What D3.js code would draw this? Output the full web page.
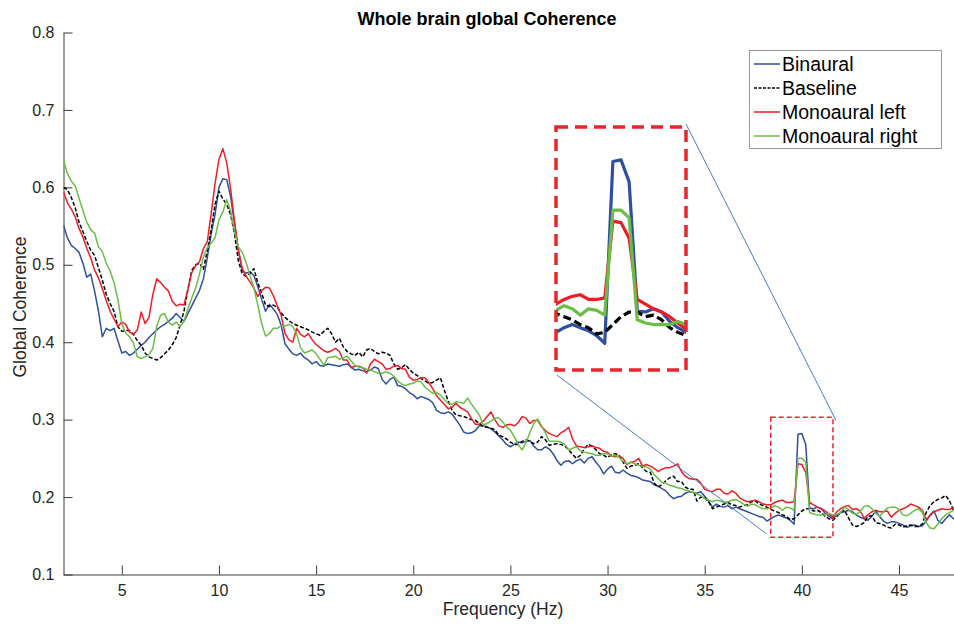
<!DOCTYPE html>
<html>
<head>
<meta charset="utf-8">
<script src="https://cdn.jsdelivr.net/npm/d3@7"></script>
<style>
  html, body { margin: 0; padding: 0; background: #fff; }
  svg { display: block; font-family: "Liberation Sans", Arial, Helvetica, sans-serif; }
</style>
</head>
<body>
<svg id="chart" width="954" height="626"></svg>
<script>
// ---------------- DATA ----------------
const freqStart = 2, freqStep = 0.2, nPoints = 231;   // 2.0 ... 48.0 Hz

const seriesNames = ["Binaural", "Baseline", "Monoaural left", "Monoaural right"];

const binaural = [
  0.551,0.535,0.525,0.521,0.516, 0.502,0.484,0.488,0.466,0.440,
  0.407,0.418,0.415,0.418,0.402, 0.386,0.388,0.383,0.386,0.391,
  0.396,0.400,0.406,0.411,0.416, 0.420,0.423,0.427,0.431,0.437,
  0.432,0.427,0.437,0.447,0.457, 0.467,0.482,0.509,0.540,0.565,
  0.600,0.611,0.610,0.588,0.554, 0.519,0.492,0.489,0.491,0.486,
  0.472,0.455,0.440,0.449,0.443, 0.436,0.422,0.398,0.391,0.385,
  0.383,0.386,0.380,0.377,0.372, 0.375,0.370,0.369,0.372,0.371,
  0.370,0.369,0.371,0.372,0.368, 0.364,0.365,0.363,0.362,0.364,
  0.368,0.366,0.352,0.346,0.352, 0.355,0.344,0.343,0.340,0.335,
  0.332,0.327,0.330,0.328,0.326, 0.322,0.312,0.309,0.308,0.310,
  0.307,0.300,0.293,0.284,0.282, 0.283,0.286,0.292,0.292,0.291,
  0.288,0.284,0.279,0.274,0.268, 0.265,0.268,0.271,0.270,0.272,
  0.273,0.266,0.261,0.261,0.265, 0.262,0.256,0.247,0.241,0.246,
  0.247,0.243,0.247,0.249,0.244, 0.250,0.252,0.245,0.239,0.230,
  0.236,0.240,0.232,0.231,0.235, 0.231,0.228,0.227,0.225,0.222,
  0.221,0.220,0.216,0.214,0.211, 0.208,0.202,0.198,0.200,0.201,
  0.205,0.207,0.206,0.205,0.207, 0.201,0.195,0.187,0.191,0.188,
  0.187,0.189,0.185,0.187,0.185, 0.183,0.181,0.179,0.177,0.175,
  0.174,0.169,0.172,0.175,0.177, 0.175,0.173,0.170,0.165,0.281,
  0.282,0.268,0.186,0.185,0.187, 0.185,0.179,0.175,0.172,0.177,
  0.180,0.181,0.183,0.181,0.177, 0.174,0.172,0.170,0.175,0.182,
  0.175,0.169,0.166,0.168,0.168, 0.166,0.164,0.161,0.163,0.164,
  0.162,0.163,0.169,0.177,0.182, 0.170,0.166,0.172,0.177,0.172,
  0.170
];

const baseline = [
  0.600,0.597,0.587,0.574,0.555, 0.543,0.530,0.519,0.512,0.496,
  0.480,0.462,0.450,0.440,0.420, 0.414,0.415,0.415,0.410,0.402,
  0.396,0.386,0.381,0.379,0.377, 0.380,0.385,0.390,0.397,0.406,
  0.422,0.440,0.468,0.493,0.500, 0.502,0.494,0.518,0.545,0.578,
  0.595,0.585,0.578,0.565,0.540, 0.505,0.488,0.485,0.489,0.495,
  0.477,0.463,0.448,0.446,0.448, 0.445,0.438,0.432,0.428,0.424,
  0.422,0.420,0.418,0.416,0.413, 0.411,0.409,0.414,0.418,0.411,
  0.400,0.405,0.394,0.388,0.385, 0.383,0.387,0.381,0.390,0.392,
  0.388,0.385,0.387,0.386,0.383, 0.372,0.365,0.367,0.371,0.365,
  0.360,0.357,0.353,0.350,0.347, 0.348,0.351,0.354,0.338,0.324,
  0.312,0.306,0.305,0.304,0.302, 0.300,0.299,0.295,0.291,0.290,
  0.289,0.287,0.280,0.278,0.275, 0.271,0.268,0.268,0.272,0.274,
  0.272,0.269,0.271,0.278,0.274, 0.267,0.268,0.269,0.268,0.266,
  0.261,0.255,0.250,0.254,0.262, 0.268,0.266,0.261,0.256,0.254,
  0.251,0.255,0.256,0.254,0.245, 0.237,0.240,0.241,0.243,0.238,
  0.233,0.232,0.218,0.213,0.216, 0.221,0.225,0.227,0.220,0.220,
  0.213,0.210,0.210,0.195,0.200, 0.199,0.194,0.185,0.187,0.189,
  0.191,0.193,0.190,0.189,0.187, 0.189,0.190,0.194,0.195,0.191,
  0.189,0.187,0.184,0.182,0.180, 0.177,0.175,0.171,0.172,0.177,
  0.182,0.185,0.185,0.182,0.183, 0.180,0.175,0.172,0.170,0.175,
  0.180,0.183,0.173,0.164,0.162, 0.164,0.167,0.175,0.176,0.167,
  0.166,0.164,0.161,0.160,0.165, 0.164,0.161,0.163,0.164,0.162,
  0.162,0.165,0.180,0.189,0.194, 0.197,0.199,0.202,0.195,0.183,
  0.178
];

const monoLeft = [
  0.594,0.580,0.572,0.562,0.547, 0.536,0.521,0.509,0.493,0.483,
  0.469,0.454,0.440,0.430,0.420, 0.426,0.423,0.413,0.410,0.416,
  0.439,0.424,0.432,0.462,0.482, 0.477,0.471,0.466,0.453,0.447,
  0.449,0.448,0.468,0.490,0.499, 0.504,0.521,0.530,0.566,0.605,
  0.636,0.650,0.632,0.598,0.556, 0.519,0.495,0.485,0.478,0.470,
  0.459,0.467,0.471,0.470,0.460, 0.447,0.435,0.411,0.403,0.400,
  0.418,0.410,0.407,0.411,0.403, 0.397,0.393,0.389,0.387,0.389,
  0.392,0.388,0.377,0.377,0.367, 0.369,0.369,0.367,0.360,0.372,
  0.378,0.375,0.372,0.365,0.366, 0.369,0.370,0.366,0.365,0.355,
  0.351,0.352,0.354,0.354,0.348, 0.340,0.331,0.325,0.320,0.314,
  0.316,0.321,0.316,0.313,0.310, 0.301,0.294,0.294,0.298,0.304,
  0.310,0.300,0.292,0.290,0.293, 0.294,0.292,0.296,0.304,0.302,
  0.295,0.299,0.299,0.291,0.286, 0.282,0.280,0.278,0.283,0.286,
  0.290,0.275,0.266,0.265,0.264, 0.265,0.266,0.264,0.263,0.259,
  0.258,0.253,0.252,0.253,0.250, 0.242,0.245,0.246,0.250,0.240,
  0.242,0.240,0.237,0.233,0.236, 0.238,0.238,0.240,0.243,0.233,
  0.227,0.224,0.223,0.223,0.218, 0.210,0.208,0.207,0.210,0.210,
  0.205,0.204,0.208,0.205,0.199, 0.196,0.194,0.195,0.196,0.194,
  0.191,0.190,0.190,0.193,0.195, 0.196,0.193,0.193,0.194,0.243,
  0.242,0.232,0.193,0.190,0.187, 0.185,0.182,0.178,0.174,0.181,
  0.185,0.188,0.189,0.184,0.185, 0.182,0.173,0.177,0.181,0.183,
  0.181,0.181,0.182,0.174,0.179, 0.183,0.185,0.187,0.191,0.189,
  0.187,0.183,0.171,0.176,0.181, 0.183,0.185,0.184,0.184,0.186,
  0.183
];

const monoRight = [
  0.635,0.618,0.608,0.602,0.586, 0.570,0.555,0.545,0.541,0.523,
  0.517,0.502,0.492,0.477,0.455, 0.424,0.412,0.407,0.399,0.381,
  0.379,0.381,0.384,0.392,0.421, 0.435,0.437,0.426,0.422,0.426,
  0.420,0.427,0.443,0.457,0.470, 0.488,0.510,0.522,0.528,0.535,
  0.558,0.568,0.584,0.570,0.543, 0.523,0.516,0.503,0.486,0.470,
  0.448,0.424,0.408,0.411,0.418, 0.418,0.421,0.421,0.423,0.420,
  0.411,0.393,0.386,0.388,0.390, 0.385,0.378,0.370,0.380,0.381,
  0.382,0.378,0.380,0.382,0.376, 0.370,0.368,0.367,0.365,0.364,
  0.362,0.360,0.360,0.362,0.360, 0.356,0.350,0.346,0.344,0.346,
  0.347,0.350,0.349,0.342,0.338, 0.334,0.335,0.332,0.326,0.321,
  0.320,0.323,0.322,0.321,0.328, 0.320,0.313,0.306,0.293,0.295,
  0.298,0.302,0.302,0.297,0.291, 0.286,0.278,0.268,0.261,0.270,
  0.283,0.295,0.301,0.292,0.283, 0.272,0.272,0.272,0.271,0.268,
  0.261,0.263,0.265,0.260,0.258, 0.257,0.256,0.254,0.254,0.256,
  0.256,0.253,0.254,0.251,0.246, 0.243,0.245,0.243,0.241,0.239,
  0.239,0.236,0.229,0.224,0.219, 0.218,0.215,0.214,0.212,0.211,
  0.209,0.208,0.206,0.204,0.202, 0.198,0.196,0.194,0.196,0.195,
  0.193,0.194,0.196,0.197,0.194, 0.191,0.188,0.191,0.190,0.187,
  0.185,0.185,0.186,0.189,0.187, 0.183,0.187,0.186,0.183,0.250,
  0.250,0.245,0.180,0.178,0.177, 0.177,0.177,0.179,0.177,0.177,
  0.180,0.187,0.184,0.179,0.178, 0.181,0.188,0.189,0.185,0.179,
  0.175,0.181,0.186,0.187,0.187, 0.184,0.177,0.176,0.179,0.183,
  0.185,0.180,0.167,0.160,0.159, 0.165,0.172,0.177,0.180,0.183,
  0.182
];

const xTicks = [5, 10, 15, 20, 25, 30, 35, 40, 45];
const yTicks = [0.1, 0.2, 0.3, 0.4, 0.5, 0.6, 0.7, 0.8];
const xDomain = [2, 48];
const yDomain = [0.1, 0.8];
// zoomed window shown in the inset
const zoomFreq = [38.4, 41.6];
const zoomValue = [0.148, 0.303];

const titleText = "Whole brain global Coherence";
const xLabel = "Frequency (Hz)";
const yLabel = "Global Coherence";

// ---------------- LAYOUT / STYLE ----------------
const W = 954, H = 626;
const plot = { left: 63.5, right: 957.3, top: 32.5, bottom: 574.5 };
const inset = { left: 556, right: 686, top: 127, bottom: 370 };
const colors = ["#2f4f9f", "#000000", "#ee1d25", "#6bbd46"];
const dashes = [null, "4,2", null, null];
const dashesInset = [null, "8,4", null, null];

const allSeries = [binaural, baseline, monoLeft, monoRight];
allSeries.forEach((s, i) => { if (s.length !== nPoints) console.error(seriesNames[i] + " length " + s.length); });
const freq = d3.range(nPoints).map(i => +(freqStart + i * freqStep).toFixed(1));

const svg = d3.select("#chart");
svg.append("rect").attr("width", W).attr("height", H).attr("fill", "#fff");

const x = d3.scaleLinear().domain(xDomain).range([plot.left, plot.right]);
const y = d3.scaleLinear().domain(yDomain).range([plot.bottom, plot.top]);

const defs = svg.append("defs");
defs.append("clipPath").attr("id", "clipMain").append("rect")
  .attr("x", plot.left).attr("y", plot.top)
  .attr("width", plot.right - plot.left).attr("height", plot.bottom - plot.top);
defs.append("clipPath").attr("id", "clipInset").append("rect")
  .attr("x", inset.left).attr("y", inset.top)
  .attr("width", inset.right - inset.left).attr("height", inset.bottom - inset.top);

// axes
const axisColor = "#3a3a3a";
const gx = svg.append("g").attr("transform", `translate(0,${plot.bottom})`)
  .call(d3.axisBottom(x).tickValues(xTicks).tickSizeInner(-9).tickSizeOuter(0).tickPadding(10).tickFormat(d3.format("d")));
const gy = svg.append("g").attr("transform", `translate(${plot.left},0)`)
  .call(d3.axisLeft(y).tickValues(yTicks).tickSizeInner(-9).tickSizeOuter(0).tickPadding(9).tickFormat(d3.format(".1f")));
[gx, gy].forEach(g => {
  g.select(".domain").attr("stroke", axisColor).attr("stroke-width", 1);
  g.selectAll(".tick line").attr("stroke", axisColor).attr("stroke-width", 1);
  g.selectAll(".tick text").attr("fill", "#262626").style("font-size", "16px")
    .style("font-family", '"Liberation Sans", Arial, sans-serif');
});

// main lines
const line = d3.line().x((d, i) => x(freq[i])).y(d => y(d));
const gLines = svg.append("g").attr("clip-path", "url(#clipMain)");
allSeries.forEach((s, k) => {
  gLines.append("path").datum(s).attr("d", line)
    .attr("fill", "none").attr("stroke", colors[k]).attr("stroke-width", 1.5)
    .attr("stroke-linejoin", "round")
    .attr("stroke-dasharray", dashes[k]);
});

// zoom rectangle on main plot
const zx0 = x(zoomFreq[0]), zx1 = x(zoomFreq[1]);
const zy0 = y(zoomValue[1]), zy1 = y(zoomValue[0]);
svg.append("rect").attr("x", zx0).attr("y", zy0)
  .attr("width", zx1 - zx0).attr("height", zy1 - zy0)
  .attr("fill", "none").attr("stroke", "#e8262b").attr("stroke-width", 1.5)
  .attr("stroke-dasharray", "5,3");

// connector lines
const connColor = "#4a7cc7";
svg.append("line").attr("x1", inset.right).attr("y1", inset.top - 3)
  .attr("x2", zx1 + 3).attr("y2", zy0 + 3)
  .attr("stroke", connColor).attr("stroke-width", 1);
svg.append("line").attr("x1", inset.left + 1).attr("y1", inset.bottom + 5)
  .attr("x2", zx0 - 5).attr("y2", zy1 - 4)
  .attr("stroke", connColor).attr("stroke-width", 1);

// inset
const xi = d3.scaleLinear().domain(zoomFreq).range([inset.left, inset.right]);
const yi = d3.scaleLinear().domain(zoomValue).range([inset.bottom, inset.top]);
svg.append("rect").attr("x", inset.left).attr("y", inset.top)
  .attr("width", inset.right - inset.left).attr("height", inset.bottom - inset.top)
  .attr("fill", "#fff");
const lineInset = d3.line().x((d, i) => xi(freq[i])).y(d => yi(d));
const gInset = svg.append("g").attr("clip-path", "url(#clipInset)");
[0, 2, 1, 3].forEach(k => {
  gInset.append("path").datum(allSeries[k]).attr("d", lineInset)
    .attr("fill", "none").attr("stroke", colors[k]).attr("stroke-width", 3.2)
    .attr("stroke-linejoin", "round")
    .attr("stroke-dasharray", dashesInset[k]);
});
svg.append("rect").attr("x", inset.left).attr("y", inset.top)
  .attr("width", inset.right - inset.left).attr("height", inset.bottom - inset.top)
  .attr("fill", "none").attr("stroke", "#e8262b").attr("stroke-width", 3.5)
  .attr("stroke-dasharray", "12,7");

// title & labels
svg.append("text").attr("x", 487).attr("y", 25).attr("text-anchor", "middle")
  .style("font-size", "18px").style("font-weight", "bold").attr("fill", "#000")
  .text(titleText);
svg.append("text").attr("x", 503).attr("y", 615).attr("text-anchor", "middle")
  .style("font-size", "17.5px").attr("fill", "#262626").text(xLabel);
svg.append("text").attr("transform", "translate(26,307) rotate(-90)").attr("text-anchor", "middle")
  .style("font-size", "17.5px").attr("fill", "#262626").text(yLabel);

// legend
const leg = svg.append("g");
leg.append("rect").attr("x", 749.5).attr("y", 50.5).attr("width", 192).attr("height", 98)
  .attr("fill", "#fff").attr("stroke", "#9a9a9a").attr("stroke-width", 1);
seriesNames.forEach((name, k) => {
  const cy = 64 + k * 24;
  leg.append("line").attr("x1", 754).attr("x2", 780).attr("y1", cy).attr("y2", cy)
    .attr("stroke", colors[k]).attr("stroke-width", 1.5).attr("stroke-dasharray", k === 1 ? "3,1.5" : null);
  leg.append("text").attr("x", 782).attr("y", cy + 7).style("font-size", "19.5px")
    .attr("fill", "#000").text(name);
});
</script>
</body>
</html>
